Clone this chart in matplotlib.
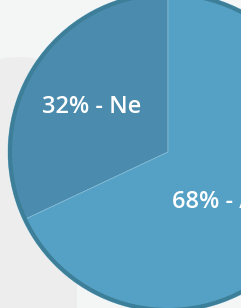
import matplotlib

matplotlib.use("Agg")
import matplotlib.pyplot as plt
from matplotlib.patches import Circle, FancyBboxPatch

# data
answers = ["Ne", "Ano"]
shares = [32, 68]
slice_colors = ["#4b8bae", "#55a1c5"]
label_pos = [(-0.475, 0.28, "center"), (0.028, -0.31, "left")]

fig = plt.figure(figsize=(2.41, 3.08), dpi=100, facecolor="#f4f5f5")

# background decoration (page panel behind the chart)
bg = fig.add_axes([0, 0, 1, 1])
bg.set_xlim(0, 241)
bg.set_ylim(308, 0)
bg.axis("off")
bg.add_patch(FancyBboxPatch((-40, 57), 117, 320, boxstyle="round,pad=0,rounding_size=60",
                            facecolor="#ecedec", edgecolor="none"))

# pie axes: center at (168, 152) px, radius 160 px, cropped by the figure
W, H = 241, 308
cx, cy, r = 168, 152, 160
ax = fig.add_axes([(cx - r) / W, (H - cy - r) / H, 2 * r / W, 2 * r / H])

ax.pie(shares, colors=slice_colors, startangle=90, counterclock=True, radius=1,
       wedgeprops=dict(edgecolor="#86bcd6", linewidth=0.5), frame=True)
ax.set_xlim(-1, 1)
ax.set_ylim(-1, 1)
ax.set_aspect("auto")
ax.axis("off")

# dark outer ring
ax.add_patch(Circle((0, 0), 1 - 2 / r, fill=False, edgecolor="#3d7e98", linewidth=2.9))

for (x, y, ha), p, name in zip(label_pos, shares, answers):
    ax.text(x, y, f"{p}% - {name}", color="white", fontsize=17, fontweight="semibold",
            family="Open Sans", ha=ha, va="center")

fig.savefig("out.png", dpi=100, facecolor=fig.get_facecolor())
